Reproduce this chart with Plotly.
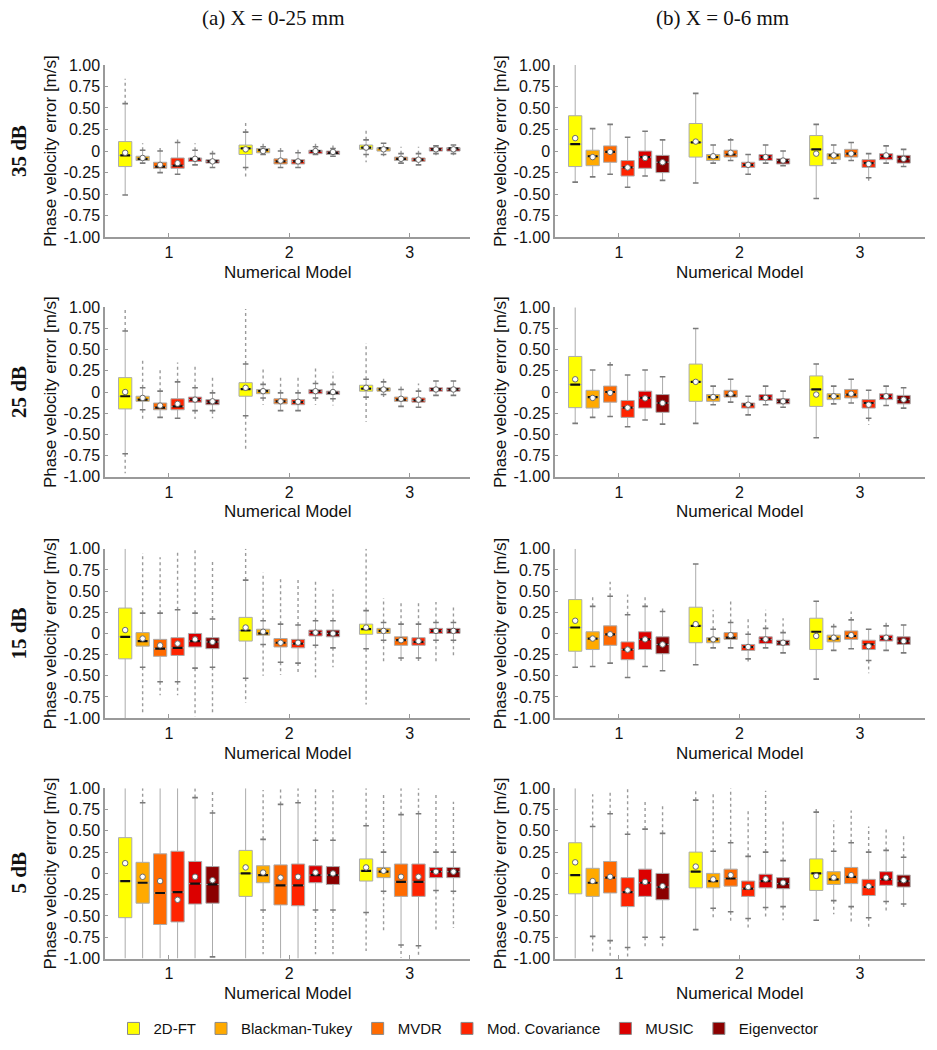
import plotly.graph_objects as go

# ---------------- categories / labels ----------------
METHODS = ["2D-FT", "Blackman-Tukey", "MVDR", "Mod. Covariance", "MUSIC", "Eigenvector"]
COLORS = ["#FFFF00", "#FFAA00", "#FF6A00", "#FF2400", "#DC0000", "#8B0000"]
MODELS = [1, 2, 3]
MODEL_LABELS = ["1", "2", "3"]
SNR_LABELS = ["35 dB", "25 dB", "15 dB", "5 dB"]
COL_TITLES = ["(a) X = 0-25 mm", "(b) X = 0-6 mm"]
Y_TICKS = [1.0, 0.75, 0.5, 0.25, 0.0, -0.25, -0.5, -0.75, -1.0]
Y_TICK_TEXT = ["1.00", "0.75", "0.50", "0.25", "0", "-0.25", "-0.50", "-0.75", "-1.00"]
Y_TITLE = "Phase velocity error [m/s]"
X_TITLE = "Numerical Model"

# ---------------- data: [model1 x 6 methods], [model2 ...], [model3 ...] ----------------
# 35 dB, X = 0-25 mm
A35_Q1 = [[-0.18, -0.11, -0.20, -0.20, -0.12, -0.14], [-0.04, -0.02, -0.15, -0.15, -0.03, -0.04], [0.02, 0.00, -0.11, -0.12, 0.00, 0.00]]
A35_MED = [[-0.05, -0.09, -0.18, -0.17, -0.09, -0.12], [0.03, 0.01, -0.12, -0.12, 0.00, -0.02], [0.04, 0.03, -0.09, -0.10, 0.02, 0.03]]
A35_Q3 = [[0.11, -0.06, -0.13, -0.08, -0.08, -0.10], [0.07, 0.03, -0.09, -0.10, 0.01, 0.00], [0.07, 0.04, -0.07, -0.08, 0.04, 0.04]]
A35_LO = [[-0.51, -0.14, -0.25, -0.27, -0.16, -0.19], [-0.19, -0.04, -0.19, -0.19, -0.04, -0.06], [-0.04, -0.04, -0.14, -0.16, -0.03, -0.03]]
A35_HI = [[0.55, 0.01, 0.00, 0.10, 0.01, -0.03], [0.22, 0.05, 0.00, -0.02, 0.05, 0.03], [0.13, 0.09, -0.03, -0.03, 0.06, 0.07]]
A35_MEAN = [[-0.02, -0.08, -0.16, -0.14, -0.09, -0.12], [0.02, 0.00, -0.11, -0.12, 0.00, -0.01], [0.04, 0.02, -0.09, -0.10, 0.02, 0.02]]
A35_OLO = [[None] * 6, [-0.32, None, None, None, None, None], [-0.13, -0.06, None, None, -0.05, -0.05]]
A35_OHI = [[0.84, 0.09, 0.06, 0.15, 0.09, 0.03], [0.33, 0.09, 0.05, 0.02, 0.09, 0.07], [0.26, None, 0.05, 0.05, None, None]]

# 35 dB, X = 0-6 mm
B35_Q1 = [[-0.18, -0.17, -0.13, -0.29, -0.20, -0.25], [-0.07, -0.11, -0.07, -0.19, -0.11, -0.15], [-0.17, -0.10, -0.07, -0.19, -0.10, -0.14]]
B35_MED = [[0.08, -0.06, -0.01, -0.19, -0.07, -0.13], [0.10, -0.07, -0.04, -0.16, -0.07, -0.11], [0.02, -0.05, -0.03, -0.14, -0.06, -0.09]]
B35_Q3 = [[0.41, 0.01, 0.06, -0.11, 0.00, -0.05], [0.32, -0.04, 0.01, -0.13, -0.04, -0.09], [0.18, -0.03, 0.02, -0.10, -0.03, -0.05]]
B35_LO = [[-0.36, -0.30, -0.27, -0.42, -0.29, -0.34], [-0.37, -0.14, -0.11, -0.27, -0.14, -0.17], [-0.55, -0.14, -0.11, -0.31, -0.14, -0.18]]
B35_HI = [[1.00, 0.26, 0.31, 0.16, 0.23, 0.13], [0.67, 0.07, 0.13, -0.04, 0.07, 0.00], [0.31, 0.07, 0.10, -0.03, 0.06, 0.02]]
B35_MEAN = [[0.15, -0.07, -0.01, -0.19, -0.08, -0.13], [0.11, -0.06, -0.02, -0.16, -0.07, -0.11], [-0.03, -0.05, -0.03, -0.15, -0.05, -0.09]]
B35_OLO = [[None] * 6, [None] * 6, [None, None, None, -0.38, None, None]]
B35_OHI = [[None] * 6, [None, None, 0.15, None, None, None], [None] * 6]

# 25 dB, X = 0-25 mm
A25_Q1 = [[-0.20, -0.11, -0.21, -0.21, -0.12, -0.15], [-0.05, -0.02, -0.14, -0.15, -0.02, -0.03], [0.01, 0.01, -0.11, -0.12, 0.01, 0.01]]
A25_MED = [[-0.05, -0.09, -0.185, -0.17, -0.09, -0.12], [0.035, 0.01, -0.11, -0.12, 0.01, -0.01], [0.04, 0.03, -0.09, -0.10, 0.03, 0.03]]
A25_Q3 = [[0.17, -0.05, -0.13, -0.08, -0.06, -0.09], [0.11, 0.03, -0.08, -0.09, 0.03, 0.01], [0.08, 0.05, -0.06, -0.07, 0.05, 0.05]]
A25_LO = [[-0.73, -0.21, -0.30, -0.31, -0.22, -0.22], [-0.28, -0.07, -0.22, -0.22, -0.07, -0.08], [-0.06, -0.03, -0.17, -0.18, -0.04, -0.04]]
A25_HI = [[0.72, 0.05, 0.01, 0.12, 0.05, -0.01], [0.33, 0.09, -0.01, -0.01, 0.10, 0.09], [0.15, 0.12, 0.03, 0.01, 0.13, 0.13]]
A25_MEAN = [[0.00, -0.07, -0.16, -0.14, -0.09, -0.11], [0.05, 0.01, -0.11, -0.115, 0.01, 0.00], [0.05, 0.03, -0.08, -0.09, 0.03, 0.03]]
A25_OLO = [[-0.96, -0.34, None, None, -0.32, -0.31], [-0.69, -0.15, None, None, -0.15, -0.16], [-0.35, -0.06, None, None, None, None]]
A25_OHI = [[0.98, 0.38, 0.26, 0.35, 0.32, 0.20], [0.98, 0.30, 0.18, 0.18, 0.30, 0.24], [0.58, 0.19, 0.10, 0.10, None, None]]

# 25 dB, X = 0-6 mm
B25_Q1 = [[-0.185, -0.19, -0.12, -0.30, -0.19, -0.24], [-0.11, -0.11, -0.06, -0.19, -0.10, -0.14], [-0.17, -0.09, -0.07, -0.19, -0.09, -0.14]]
B25_MED = [[0.087, -0.06, 0.00, -0.185, -0.07, -0.13], [0.12, -0.06, -0.04, -0.15, -0.07, -0.11], [0.03, -0.05, -0.03, -0.13, -0.05, -0.09]]
B25_Q3 = [[0.42, 0.02, 0.07, -0.10, 0.01, -0.03], [0.33, -0.03, 0.02, -0.13, -0.03, -0.08], [0.19, -0.02, 0.03, -0.09, -0.02, -0.04]]
B25_LO = [[-0.37, -0.30, -0.29, -0.41, -0.33, -0.38], [-0.37, -0.15, -0.12, -0.27, -0.15, -0.18], [-0.54, -0.14, -0.13, -0.31, -0.16, -0.19]]
B25_HI = [[1.00, 0.26, 0.32, 0.20, 0.26, 0.18], [0.75, 0.07, 0.15, -0.05, 0.07, 0.01], [0.33, 0.07, 0.15, 0.02, 0.07, 0.05]]
B25_MEAN = [[0.15, -0.07, -0.01, -0.185, -0.075, -0.13], [0.12, -0.06, -0.02, -0.15, -0.07, -0.11], [-0.03, -0.05, -0.02, -0.15, -0.05, -0.09]]
B25_OLO = [[None] * 6, [None] * 6, [None, None, None, -0.39, None, None]]
B25_OHI = [[None, None, 0.37, None, None, None], [None] * 6, [None] * 6]

# 15 dB, X = 0-25 mm
A15_Q1 = [[-0.30, -0.15, -0.27, -0.26, -0.16, -0.18], [-0.09, -0.02, -0.16, -0.17, -0.03, -0.04], [-0.01, 0.00, -0.14, -0.14, 0.00, 0.00]]
A15_MED = [[-0.04, -0.09, -0.18, -0.17, -0.09, -0.10], [0.035, 0.00, -0.11, -0.12, 0.01, 0.00], [0.05, 0.03, -0.08, -0.10, 0.03, 0.03]]
A15_Q3 = [[0.30, 0.01, -0.07, -0.05, 0.00, -0.05], [0.19, 0.05, -0.06, -0.07, 0.04, 0.04], [0.11, 0.06, -0.04, -0.05, 0.06, 0.06]]
A15_LO = [[-1.00, -0.40, -0.57, -0.57, -0.41, -0.40], [-0.53, -0.13, -0.34, -0.35, -0.14, -0.17], [-0.18, -0.08, -0.29, -0.29, -0.08, -0.08]]
A15_HI = [[1.00, 0.24, 0.24, 0.28, 0.24, 0.17], [0.63, 0.15, 0.11, 0.10, 0.15, 0.15], [0.27, 0.13, 0.11, 0.11, 0.13, 0.13]]
A15_MEAN = [[0.04, -0.06, -0.14, -0.12, -0.07, -0.10], [0.07, 0.02, -0.11, -0.11, 0.01, 0.00], [0.07, 0.03, -0.08, -0.09, 0.03, 0.03]]
A15_OLO = [[None, -0.96, -0.73, -0.73, -0.98, -0.94], [-0.82, -0.50, -0.49, -0.49, -0.52, -0.40], [-0.84, -0.34, -0.35, -0.35, -0.35, -0.27]]
A15_OHI = [[None, 0.95, 0.90, 0.97, 1.00, 0.88], [1.00, 0.72, 0.64, 0.64, 0.64, 0.52], [1.00, 0.42, 0.37, 0.37, 0.37, 0.33]]

# 15 dB, X = 0-6 mm
B15_Q1 = [[-0.21, -0.19, -0.14, -0.31, -0.19, -0.24], [-0.11, -0.11, -0.07, -0.20, -0.12, -0.14], [-0.19, -0.10, -0.07, -0.19, -0.09, -0.13]]
B15_MED = [[0.07, -0.06, -0.01, -0.19, -0.07, -0.13], [0.09, -0.07, -0.05, -0.16, -0.07, -0.11], [0.02, -0.06, -0.03, -0.13, -0.06, -0.09]]
B15_Q3 = [[0.40, 0.02, 0.09, -0.10, 0.02, -0.04], [0.31, -0.05, 0.01, -0.13, -0.04, -0.08], [0.18, -0.02, 0.03, -0.08, -0.02, -0.04]]
B15_LO = [[-0.40, -0.39, -0.35, -0.52, -0.39, -0.44], [-0.37, -0.17, -0.17, -0.30, -0.17, -0.23], [-0.54, -0.20, -0.18, -0.32, -0.20, -0.23]]
B15_HI = [[1.00, 0.32, 0.44, 0.22, 0.32, 0.26], [0.82, 0.05, 0.13, -0.01, 0.06, 0.01], [0.38, 0.08, 0.16, 0.05, 0.09, 0.10]]
B15_MEAN = [[0.15, -0.06, -0.01, -0.19, -0.07, -0.13], [0.11, -0.07, -0.02, -0.16, -0.07, -0.11], [-0.03, -0.05, -0.02, -0.15, -0.05, -0.09]]
B15_OLO = [[None] * 6, [None, None, None, -0.33, None, None], [None, None, None, -0.47, None, None]]
B15_OHI = [[None, 0.46, 0.61, 0.46, 0.46, 0.32], [None, 0.28, 0.40, 0.18, 0.28, 0.18], [None, 0.15, 0.26, None, 0.15, None]]

# 5 dB, X = 0-25 mm
A5_Q1 = [[-0.52, -0.35, -0.60, -0.57, -0.36, -0.35], [-0.27, -0.11, -0.37, -0.38, -0.11, -0.13], [-0.09, -0.05, -0.27, -0.27, -0.05, -0.05]]
A5_MED = [[-0.09, -0.11, -0.23, -0.22, -0.12, -0.13], [0.00, -0.02, -0.14, -0.14, -0.02, -0.02], [0.03, 0.02, -0.10, -0.10, 0.02, 0.02]]
A5_Q3 = [[0.42, 0.13, 0.23, 0.26, 0.14, 0.08], [0.27, 0.09, 0.10, 0.11, 0.09, 0.08], [0.17, 0.07, 0.11, 0.11, 0.07, 0.07]]
A5_LO = [[-1.00, -1.00, -1.00, -1.00, -1.00, -0.98], [-1.00, -0.43, -1.00, -1.00, -0.43, -0.43], [-0.46, -0.21, -0.84, -0.85, -0.20, -0.21]]
A5_HI = [[1.00, 0.83, 1.00, 1.00, 0.89, 0.71], [1.00, 0.40, 0.81, 0.83, 0.39, 0.39], [0.56, 0.25, 0.69, 0.70, 0.25, 0.25]]
A5_MEAN = [[0.12, -0.04, -0.09, -0.31, -0.04, -0.08], [0.07, 0.01, -0.05, -0.04, 0.01, 0.00], [0.07, 0.03, -0.04, -0.04, 0.02, 0.02]]
A5_OLO = [[None] * 6, [None, -0.95, None, None, -0.95, -0.95], [-0.91, -0.70, -0.99, -0.99, -0.68, -0.64]]
A5_OHI = [[None, 1.00, None, None, 1.00, 0.98], [None, 0.98, 1.00, 1.00, 1.00, 0.98], [1.00, 0.92, 1.00, 1.00, 0.92, 0.84]]

# 5 dB, X = 0-6 mm
B5_Q1 = [[-0.24, -0.27, -0.23, -0.39, -0.27, -0.31], [-0.17, -0.17, -0.15, -0.27, -0.17, -0.18], [-0.20, -0.13, -0.12, -0.26, -0.14, -0.16]]
B5_MED = [[-0.02, -0.11, -0.05, -0.22, -0.11, -0.16], [0.02, -0.09, -0.06, -0.18, -0.09, -0.12], [0.00, -0.07, -0.04, -0.16, -0.07, -0.09]]
B5_Q3 = [[0.36, 0.06, 0.14, -0.05, 0.05, 0.00], [0.25, 0.00, 0.05, -0.09, -0.01, -0.05], [0.17, 0.02, 0.07, -0.07, 0.02, -0.02]]
B5_LO = [[-1.00, -0.74, -0.79, -0.87, -0.75, -0.75], [-0.66, -0.41, -0.45, -0.53, -0.40, -0.39], [-0.55, -0.32, -0.39, -0.52, -0.33, -0.36]]
B5_HI = [[1.00, 0.55, 0.70, 0.46, 0.52, 0.47], [0.86, 0.26, 0.36, 0.20, 0.25, 0.15], [0.72, 0.26, 0.36, 0.25, 0.27, 0.19]]
B5_MEAN = [[0.13, -0.09, -0.04, -0.20, -0.10, -0.15], [0.08, -0.07, -0.02, -0.16, -0.07, -0.11], [-0.03, -0.05, -0.02, -0.15, -0.05, -0.08]]
B5_OLO = [[None, -0.95, -0.98, -0.98, -0.89, -0.89], [None, -0.54, -0.57, -0.66, -0.54, -0.55], [None, -0.48, -0.59, -0.65, -0.44, -0.40]]
B5_OHI = [[None, 0.93, 0.97, 0.99, 0.87, 0.79], [1.00, 0.93, 1.00, 0.75, 0.97, 0.62], [0.78, 0.62, 0.74, 0.55, 0.55, 0.44]]

PANELS = {
    (0, 0): (A35_Q1, A35_MED, A35_Q3, A35_LO, A35_HI, A35_MEAN, A35_OLO, A35_OHI),
    (0, 1): (B35_Q1, B35_MED, B35_Q3, B35_LO, B35_HI, B35_MEAN, B35_OLO, B35_OHI),
    (1, 0): (A25_Q1, A25_MED, A25_Q3, A25_LO, A25_HI, A25_MEAN, A25_OLO, A25_OHI),
    (1, 1): (B25_Q1, B25_MED, B25_Q3, B25_LO, B25_HI, B25_MEAN, B25_OLO, B25_OHI),
    (2, 0): (A15_Q1, A15_MED, A15_Q3, A15_LO, A15_HI, A15_MEAN, A15_OLO, A15_OHI),
    (2, 1): (B15_Q1, B15_MED, B15_Q3, B15_LO, B15_HI, B15_MEAN, B15_OLO, B15_OHI),
    (3, 0): (A5_Q1, A5_MED, A5_Q3, A5_LO, A5_HI, A5_MEAN, A5_OLO, A5_OHI),
    (3, 1): (B5_Q1, B5_MED, B5_Q3, B5_LO, B5_HI, B5_MEAN, B5_OLO, B5_OHI),
}

# ---------------- layout geometry (target pixel positions) ----------------
W, H = 937, 1050
COL_PX = [(105, 470), (555, 925)]
COL_RANGE = [[0.47, 3.5], [0.47, 3.54]]
ROW_PX = [(65, 237), (307, 476), (548, 717), (787, 957)]
TITLE_Y = 18
LEGEND_Y = 1027
# vertical calibration of the rendered page (measured offset / scale)
V_OFF, V_SCALE = 8.2, 0.982


def py(p):
    """target pixel row -> paper fraction"""
    return 1 - ((p - V_OFF) / V_SCALE) / H


STEP = 0.145
OFFSETS = [(i - 2.5) * STEP for i in range(6)]
BOX_W = 0.11
AXIS_GRAY = "#9a9a9a"
TXT = "#111111"
SANS = "Liberation Sans, Arial, sans-serif"
SERIF = "Liberation Serif, Times New Roman, serif"

fig = go.Figure()
layout_axes = {}
annotations = []

for (r, c), (Q1, MED, Q3, LO, HI, MEAN, OLO, OHI) in PANELS.items():
    idx = r * 2 + c + 1
    xn = "x" if idx == 1 else f"x{idx}"
    yn = "y" if idx == 1 else f"y{idx}"
    x0, x1 = COL_PX[c]
    y0, y1 = ROW_PX[r]
    layout_axes["xaxis" if idx == 1 else f"xaxis{idx}"] = dict(
        domain=[x0 / W, x1 / W], range=COL_RANGE[c], anchor=yn,
        tickvals=MODELS, ticktext=MODEL_LABELS, showline=True, linecolor=AXIS_GRAY,
        linewidth=1.5, ticks="inside", ticklen=4, tickcolor=AXIS_GRAY, showgrid=False,
        zeroline=False, tickfont=dict(size=16, color=TXT, family=SANS), fixedrange=True)
    layout_axes["yaxis" if idx == 1 else f"yaxis{idx}"] = dict(
        domain=[py(y1), py(y0)], range=[-1.0, 1.0], anchor=xn,
        tickvals=Y_TICKS, ticktext=Y_TICK_TEXT, showline=True, linecolor=AXIS_GRAY,
        linewidth=1.5, ticks="inside", ticklen=3, tickcolor=AXIS_GRAY, showgrid=False,
        zeroline=False, tickfont=dict(size=16, color=TXT, family=SANS), fixedrange=True)

    # boxes (whisker caps drawn separately below)
    for m in range(6):
        xs = [g + OFFSETS[m] for g in MODELS]
        fig.add_trace(go.Box(
            x=xs, q1=[Q1[g][m] for g in range(3)], median=[MED[g][m] for g in range(3)],
            q3=[Q3[g][m] for g in range(3)], lowerfence=[LO[g][m] for g in range(3)],
            upperfence=[HI[g][m] for g in range(3)], width=BOX_W, fillcolor=COLORS[m],
            line=dict(color="#ababab", width=1), whiskerwidth=0, boxpoints=False,
            showlegend=False, hoverinfo="skip", xaxis=xn, yaxis=yn))

    # outliers (drawn as dotted runs between whisker end and farthest outlier)
    ox, oy = [], []
    for g in range(3):
        for m in range(6):
            xv = MODELS[g] + OFFSETS[m]
            if OHI[g][m] is not None:
                ox += [xv, xv, None]
                oy += [HI[g][m], OHI[g][m], None]
            if OLO[g][m] is not None:
                ox += [xv, xv, None]
                oy += [LO[g][m], OLO[g][m], None]
    fig.add_trace(go.Scatter(x=ox, y=oy, mode="lines", line=dict(color="#9a9a9a", width=1.4, dash="dot"),
                             showlegend=False, hoverinfo="skip", xaxis=xn, yaxis=yn))

    # whisker caps (only where the whisker ends inside the axis range)
    cx, cy = [], []
    for g in range(3):
        for m in range(6):
            for v in (LO[g][m], HI[g][m]):
                if abs(v) < 0.995:
                    cx.append(MODELS[g] + OFFSETS[m])
                    cy.append(v)
    fig.add_trace(go.Scatter(x=cx, y=cy, mode="markers",
                             marker=dict(symbol="line-ew", size=4, line=dict(width=1.6, color="#7a7a7a")),
                             showlegend=False, hoverinfo="skip", xaxis=xn, yaxis=yn))

    # medians
    mx = [MODELS[g] + OFFSETS[m] for g in range(3) for m in range(6)]
    fig.add_trace(go.Scatter(x=mx, y=[MED[g][m] for g in range(3) for m in range(6)], mode="markers",
                             marker=dict(symbol="line-ew", size=7, line=dict(width=2.2, color="#111111")),
                             showlegend=False, hoverinfo="skip", xaxis=xn, yaxis=yn))
    # means
    fig.add_trace(go.Scatter(x=mx, y=[MEAN[g][m] for g in range(3) for m in range(6)], mode="markers",
                             marker=dict(symbol="circle", size=5.5, color="white", line=dict(width=1, color="#6a6a6a")),
                             showlegend=False, hoverinfo="skip", xaxis=xn, yaxis=yn))

    # axis titles
    annotations.append(dict(text=X_TITLE, x=(x0 + x1) / 2 / W, y=py(y1 + 35), xref="paper", yref="paper",
                            showarrow=False, xanchor="center", yanchor="middle",
                            font=dict(size=17, color=TXT, family=SANS)))
    annotations.append(dict(text=Y_TITLE, x=(x0 - 55) / W, y=py((y0 + y1) / 2), xref="paper", yref="paper",
                            showarrow=False, textangle=-90, xanchor="center", yanchor="middle",
                            font=dict(size=17, color=TXT, family=SANS)))

# row labels
for r, lab in enumerate(SNR_LABELS):
    y0, y1 = ROW_PX[r]
    annotations.append(dict(text=f"<b>{lab}</b>", x=19 / W, y=py((y0 + y1) / 2), xref="paper", yref="paper",
                            showarrow=False, textangle=-90, xanchor="center", yanchor="middle",
                            font=dict(size=21, color=TXT, family=SERIF)))
# column titles
for c, (t, cx) in enumerate(zip(COL_TITLES, [273, 722])):
    annotations.append(dict(text=t, x=cx / W, y=py(TITLE_Y), xref="paper", yref="paper", showarrow=False,
                            xanchor="center", yanchor="middle", font=dict(size=21, color=TXT, family=SERIF)))

# legend entries
for m in range(6):
    fig.add_trace(go.Bar(x=[None], y=[None], name=METHODS[m],
                         marker=dict(color=COLORS[m], line=dict(color="#8a8a8a", width=1)),
                         showlegend=True, xaxis="x", yaxis="y"))

fig.update_layout(
    width=W, height=H, margin=dict(l=0, r=0, t=0, b=0),
    paper_bgcolor="white", plot_bgcolor="white",
    font=dict(family=SANS, color=TXT),
    boxmode="overlay",
    annotations=annotations,
    legend=dict(orientation="h", x=0.5, xanchor="center", y=py(LEGEND_Y), yanchor="middle",
                font=dict(size=15, color=TXT, family=SANS), itemwidth=30, bgcolor="rgba(0,0,0,0)",
                traceorder="normal"),
    **layout_axes,
)

PAGE_JS = (
    "var gd=document.getElementById('{plot_id}');"
    "gd.style.position='fixed';gd.style.left='0px';gd.style.top='0px';"
    "document.documentElement.style.margin='0px';document.body.style.margin='0px';"
    "document.documentElement.style.overflow='hidden';document.body.style.overflow='hidden';"
)

fig.write_html("out.html", config={"displayModeBar": False}, post_script=PAGE_JS)
